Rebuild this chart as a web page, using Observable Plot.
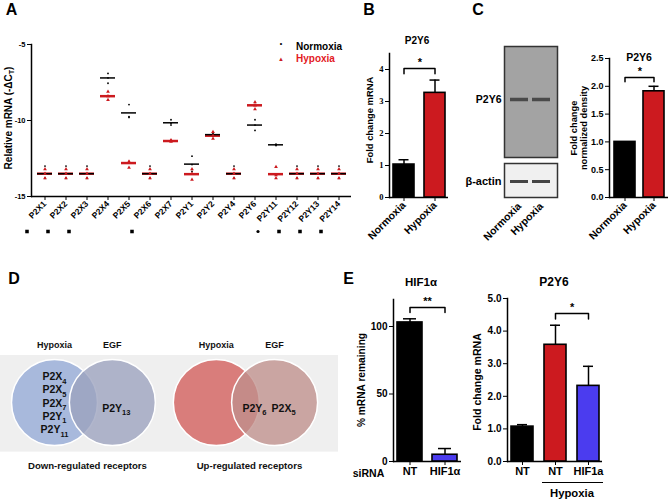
<!DOCTYPE html>
<html><head><meta charset="utf-8">
<script src="https://cdn.jsdelivr.net/npm/d3@7"></script>
<script src="https://cdn.jsdelivr.net/npm/@observablehq/plot@0.6"></script>
<style>
body{margin:0;background:#fff;font-family:"Liberation Sans",Arial,sans-serif;}
#fig{position:relative;width:669px;height:501px;overflow:hidden;background:#fff;}
</style></head><body><div id="fig"></div>
<script>
// ---------------- DATA ----------------
// Panel A: receptor qPCR (-ΔCt)
const receptors = ["P2X1","P2X2","P2X3","P2X4","P2X5","P2X6","P2X7","P2Y1","P2Y2","P2Y4","P2Y6","P2Y11","P2Y12","P2Y13","P2Y14"];
const normoxiaMean = [-13.5,-13.5,-13.5,-7.2,-9.5,-13.5,-10.15,-12.87,-10.93,-13.5,-10.3,-11.6,-13.5,-13.5,-13.5];
const hypoxiaMean  = [-13.5,-13.5,-13.5,-8.4,-12.8,-13.5,-11.35,-13.53,-11.0,-13.5,-9.0,-13.53,-13.5,-13.5,-13.5];
const normoxiaReps = [
  [-13.0,-13.5,-13.8],[-13.0,-13.5,-13.8],[-13.0,-13.5,-13.8],[-6.9,-7.2,-7.55],
  [-8.95,-9.75,-9.8],[-13.0,-13.5,-13.8],[-9.95,-10.2,-10.3],[-12.35,-12.9,-13.35],
  [-10.85,-10.95,-11.0],[-13.0,-13.5,-13.8],[-9.95,-10.3,-10.65],[-11.55,-11.6,-11.65],
  [-13.0,-13.5,-13.8],[-13.0,-13.5,-13.8],[-13.0,-13.5,-13.8]];
const hypoxiaReps = [
  [-13.2,-13.5,-13.8],[-13.2,-13.5,-13.8],[-13.2,-13.5,-13.8],[-8.1,-8.4,-8.65],
  [-12.7,-12.75,-13.1],[-13.2,-13.5,-13.8],[-11.3,-11.35,-11.4],[-13.2,-13.5,-13.9],
  [-10.75,-11.0,-11.2],[-13.2,-13.5,-13.8],[-8.8,-9.0,-9.25],[-13.05,-13.6,-13.8],
  [-13.2,-13.5,-13.8],[-13.2,-13.5,-13.8],[-13.2,-13.5,-13.8]];
const sigReceptors = ["P2X1","P2X2","P2X3","P2X6","P2Y11","P2Y12","P2Y13","P2Y14"];
const sigSymbols   = ["square","square","square","square","circle","square","square","square"];
const aTicks = [-15,-10,-5];

// Panel B: P2Y6 mRNA
const conditions = ["Normoxia","Hypoxia"];
const bMean = [1.03, 3.27];
const bErr  = [0.15, 0.40];
const bTicks = [0,1,2,3,4];
const bSig = {from:"Normoxia", to:"Hypoxia", y:4.03, label:"*"};

// Panel C: western blot densitometry
const blotProteins = ["P2Y6","β-actin"];
const cMean = [1.0, 1.91];
const cErr  = [0, 0.09];
const cTicks = [0,0.5,1,1.5,2,2.5];
const cSig = {from:"Normoxia", to:"Hypoxia", y:2.16, label:"*"};

// Panel D: Venn diagrams
const vennSets   = ["Hypoxia","EGF","Hypoxia","EGF"];
const vennGroups = ["down","down","up","up"];
const downHypoxiaOnly = ["P2X₄","P2X₅","P2X₇","P2Y₁","P2Y₁₁"];
const downEgfOnly = ["P2Y₁₃"];
const upShared = ["P2Y₆"];
const upEgfOnly = ["P2X₅"];
const vennCaptions = ["Down-regulated receptors","Up-regulated receptors"];

// Panel E: siRNA
const eSiRNA = ["NT","HIF1α"];
const eHifMean = [103, 5];
const eHifErr  = [2.7, 4.6];
const eHifTicks = [0,50,100];
const eHifSig = {from:"NT", to:"HIF1α", y:114, label:"**"};
const eGroups = ["NT-normoxia","NT-hypoxia","HIF1a-hypoxia"];
const eGroupLabels = ["NT","NT","HIF1a"];
const eP2y6Mean = [1.07, 3.58, 2.32];
const eP2y6Err  = [0.06, 0.60, 0.60];
const eP2y6Ticks = [0,1,2,3,4,5];
const eP2y6Sig = {from:"NT-hypoxia", to:"HIF1a-hypoxia", y:4.54, label:"*"};

// ---------------- STYLE / LAYOUT ----------------
const RED = "#cc1a1f", BLUE = "#4b3cef", BLACK = "#000";
const SANS = "Liberation Sans, Arial, sans-serif";
const SERIF = "Liberation Serif, Times New Roman, serif";
const fig = document.getElementById("fig");
function place(el, left, top){ el.style.position="absolute"; el.style.left=left+"px"; el.style.top=top+"px"; fig.appendChild(el); return el; }
function label(html, x, y, o={}){
  const {size=10, weight="bold", color="#000", rotate=0, family=SANS, anchor="middle", lh=1.05} = o;
  const d = document.createElement("div");
  d.innerHTML = html;
  const tx = anchor==="start" ? "0" : anchor==="end" ? "-100%" : "-50%";
  Object.assign(d.style,{position:"absolute",left:x+"px",top:y+"px",fontSize:size+"px",fontWeight:weight,color,
    fontFamily:family,whiteSpace:"nowrap",lineHeight:lh,textAlign:"center",
    transform:`translate(${tx},-50%) rotate(${rotate}deg)`});
  fig.appendChild(d); return d;
}
const st = (size)=>({fontFamily:SANS,fontSize:size+"px",fontWeight:"bold",color:"#000",background:"transparent",overflow:"visible"});
const halfStep = (n, w, pi, po) => w/(n-pi+2*po)/2;
function bracket(b, leg, dx, fontSize){
  const pts = [{x:b.from,y:b.y-leg},{x:b.from,y:b.y},{x:b.to,y:b.y},{x:b.to,y:b.y-leg}];
  return [Plot.line(pts,{x:"x",y:"y",stroke:"#000",strokeWidth:1.5}),
          Plot.text([b],{x:"from",y:"y",text:"label",dx,dy:-6,fontSize})];
}
function barMarks(data, capInset){
  const withErr = data.filter(d=>d.e>0);
  return [
    Plot.ruleX(withErr,{x:"c",y1:"m",y2:d=>d.m+d.e,strokeWidth:1.5}),
    Plot.tickY(withErr,{x:"c",y:d=>d.m+d.e,strokeWidth:1.5,insetLeft:capInset,insetRight:capInset}),
    Plot.barY(data,{x:"c",y:"m",fill:"fill",stroke:"#000",strokeWidth:1.6})
  ];
}
// render unicode subscript digits as real subscript tspans
const SUB = "₀₁₂₃₄₅₆₇₈₉";
function subscriptify(svg){
  svg.querySelectorAll("text").forEach(t=>{
    const m = t.textContent.match(/^(.*?)([₀-₉]+)$/);
    if (!m) return;
    t.textContent = m[1];
    const ts = document.createElementNS("http://www.w3.org/2000/svg","tspan");
    ts.textContent = [...m[2]].map(c=>SUB.indexOf(c)).join("");
    ts.setAttribute("dy","3.5"); ts.setAttribute("font-size","7.5");
    t.appendChild(ts);
  });
  return svg;
}

// ---------------- PANEL A ----------------
const aMeans = receptors.map((r,i)=>({r,n:normoxiaMean[i],h:hypoxiaMean[i]}));
const aN = receptors.flatMap((r,i)=>normoxiaReps[i].map(v=>({r,v})));
const aH = receptors.flatMap((r,i)=>hypoxiaReps[i].map(v=>({r,v})));
const aSig = sigReceptors.map((r,i)=>({r,s:sigSymbols[i]}));
place(Plot.plot({
  width:352,height:250,marginLeft:31,marginRight:1,marginTop:44,marginBottom:54,
  style:st(8),
  x:{type:"band",domain:receptors,paddingInner:0.3,paddingOuter:0.15,label:null},
  y:{domain:[-15,-5],label:null},
  marks:[
    Plot.frame({anchor:"left",strokeWidth:1.5}),
    Plot.ruleY([-15],{strokeWidth:1.5}),
    Plot.axisY({ticks:aTicks,tickFormat:d=>String(d),tickSize:4,tickPadding:2,fontSize:7.5,label:null}),
    Plot.axisX({tickRotate:-45,tickSize:4,tickPadding:2,fontSize:8.5,label:null}),
    Plot.tickY(aMeans,{x:"r",y:"h",stroke:RED,strokeWidth:2.5}),
    Plot.tickY(aMeans,{x:"r",y:"n",stroke:"#000",strokeWidth:1.5}),
    Plot.dot(aN,{x:"r",y:"v",r:0.9,fill:"#000"}),
    Plot.dot(aH,{x:"r",y:"v",r:1.4,symbol:"triangle",fill:RED}),
    Plot.dot(aSig,{filter:d=>d.s==="square",x:"r",frameAnchor:"bottom",dx:-18,dy:35,symbol:"square",r:2,fill:"#000"}),
    Plot.dot(aSig,{filter:d=>d.s==="circle",x:"r",frameAnchor:"bottom",dx:-18,dy:35,r:1.6,fill:"#000"})
  ]
}),0,0);
label("A",11.5,10,{size:16});
label("Relative mRNA (-ΔC<sub style='font-size:70%;vertical-align:-2px'>T</sub>)",10,118,{size:10,rotate:-90});
label("<span style='font-size:7px'>•</span>",281,44,{size:7});
label("<span style='font-size:6px'>▲</span>",281,58.5,{size:6,color:RED});
label("Normoxia",296,46.5,{size:10,anchor:"start"});
label("Hypoxia",296,58.5,{size:10,anchor:"start",color:"#e3191f"});

// ---------------- PANEL B ----------------
const bData = conditions.map((c,i)=>({c,m:bMean[i],e:bErr[i],fill:[BLACK,RED][i]}));
place(Plot.plot({
  width:108,height:260,marginLeft:49,marginRight:0,marginTop:53,marginBottom:63,
  style:st(10),
  color:{type:"identity"},
  x:{type:"band",domain:conditions,paddingInner:0.33,paddingOuter:0.1,label:null},
  y:{domain:[0,4.5],label:null},
  marks:[
    Plot.frame({anchor:"left",strokeWidth:1.5}),
    Plot.ruleY([0],{strokeWidth:1.5}),
    ...barMarks(bData,5.5),
    ...bracket(bSig,0.16,halfStep(2,59,0.33,0.1),11),
    Plot.axisY({ticks:bTicks,tickFormat:d=>String(d),tickSize:4,tickPadding:2,fontSize:8.5,fontFamily:SERIF,label:null}),
    Plot.axisX({tickRotate:-45,tickSize:4,tickPadding:2,fontSize:10.5,label:null})
  ]
}),340,0).querySelectorAll("text").forEach(t=>{
  if (/^[0-4]$/.test(t.textContent)) { t.setAttribute("font-family", SERIF); t.style.fontFamily = SERIF; }
});
label("B",369,9.5,{size:16});
label("P2Y6",417,41,{size:10});
label("Fold change mRNA",370,120,{size:9.4,rotate:-90});

// ---------------- PANEL C ----------------
const blotTop = Plot.plot({
  width:90,height:125,marginLeft:34,marginRight:3,marginTop:6,marginBottom:8,
  style:st(10.5),
  x:{type:"band",domain:conditions,paddingInner:0.07,paddingOuter:0.21,axis:null},
  y:{type:"point",domain:[blotProteins[0]],range:[6,112],label:null},
  marks:[
    Plot.frame({fill:"#a3a3a3",stroke:"#333",strokeWidth:1.5}),
    Plot.tickY(conditions,{x:d=>d,y:()=>blotProteins[0],stroke:"#4a4a4a",strokeWidth:3.5,insetLeft:1,insetRight:1}),
    Plot.axisY({tickSize:0,tickPadding:3,fontSize:10.5,label:null})
  ]
});
place(blotTop,470,40);
const blotBottom = Plot.plot({
  width:90,height:100,marginLeft:34,marginRight:3,marginTop:5,marginBottom:61,
  style:st(10.5),
  x:{type:"band",domain:conditions,paddingInner:0.07,paddingOuter:0.21,label:null},
  y:{type:"point",domain:[blotProteins[1]],range:[5,41],label:null},
  marks:[
    Plot.frame({fill:"#f0f0f0",stroke:"#333",strokeWidth:1.5}),
    Plot.tickY(conditions,{x:d=>d,y:()=>blotProteins[1],stroke:"#454545",strokeWidth:3,insetLeft:1,insetRight:1}),
    Plot.axisY({tickSize:0,tickPadding:3,fontSize:11,label:null}),
    Plot.axisX({tickRotate:-45,tickSize:0,tickPadding:7,fontSize:10.5,label:null})
  ]
});
place(blotBottom,470,158);
const cData = conditions.map((c,i)=>({c,m:cMean[i],e:cErr[i],fill:[BLACK,RED][i]}));
place(Plot.plot({
  width:79,height:260,marginLeft:19,marginRight:1,marginTop:58,marginBottom:63,
  style:st(9),
  color:{type:"identity"},
  x:{type:"band",domain:conditions,paddingInner:0.29,paddingOuter:0.14,label:null},
  y:{domain:[0,2.5],label:null},
  marks:[
    Plot.frame({anchor:"left",strokeWidth:1.5}),
    Plot.ruleY([0],{strokeWidth:1.5}),
    ...barMarks(cData,5.5),
    ...bracket(cSig,0.08,halfStep(2,59,0.29,0.14),11),
    Plot.axisY({ticks:cTicks,tickFormat:d3.format(".1f"),tickSize:4,tickPadding:2,fontSize:9,label:null}),
    Plot.axisX({tickRotate:-45,tickSize:4,tickPadding:2,fontSize:10.5,label:null})
  ]
}),590,0);
label("C",478,9.5,{size:16});
label("P2Y6",639,57.5,{size:10.5});
label("Fold change<br>normalized density",578.5,128,{size:9.3,rotate:-90,lh:1.08});

// ---------------- PANEL D ----------------
const U = 43.5;           // px per circle-radius unit
const vennX = [0,1.33,3.72,5.06];
const vennColors = ["#a8b9dc","#9ba2be","#d97d7b","#bf8f8c"];
const circles = vennSets.map((s,i)=>({s,g:vennGroups[i],x:vennX[i],fill:vennColors[i]}));
const listRows = downHypoxiaOnly.map((t,i)=>({t,x:vennX[0],y:(i-2)*0.305+0.016}));
const captions = vennCaptions.map((t,i)=>({t,x:(vennX[2*i]+vennX[2*i+1])/2}));
const vText = {fontSize:10.5,fill:"#111"};
place(subscriptify(Plot.plot({
  width:340,height:200,margin:0,
  style:st(10),
  color:{type:"identity"},
  x:{domain:[-54/U,(340-54)/U],range:[0,340],axis:null},
  y:{domain:[(290-402)/U,(490-402)/U],range:[0,200],axis:null},
  marks:[
    Plot.rect([{x1:-54/U,x2:(338-54)/U,y1:-1.08,y2:1.14}],{x1:"x1",x2:"x2",y1:"y1",y2:"y2",fill:"#efefef"}),
    Plot.dot(circles.filter(d=>d.s==="Hypoxia"),{x:"x",y:()=>0,r:43,fill:"fill",stroke:"#fff",strokeWidth:1.5}),
    Plot.dot(circles.filter(d=>d.s==="EGF"),{x:"x",y:()=>0,r:43,fill:"fill",fillOpacity:0.78,stroke:"#fff",strokeWidth:1.5}),
    Plot.text(circles,{x:"x",y:()=>-1.31,text:"s",fontSize:9,fill:"#111"}),
    Plot.text(listRows,{x:"x",y:"y",text:"t",...vText}),
    Plot.text(downEgfOnly,{x:()=>vennX[1],y:()=>0.14,text:d=>d,dx:4,...vText}),
    Plot.text(upShared,{x:()=>(vennX[2]+vennX[3])/2,y:()=>0.14,text:d=>d,dx:9,...vText}),
    Plot.text(upEgfOnly,{x:()=>vennX[3],y:()=>0.14,text:d=>d,dx:9,...vText}),
    Plot.text(captions,{x:"x",y:()=>1.45,dx:4,text:"t",fontSize:9.6,fill:"#111"})
  ]
})),0,290);
label("D",14,278.5,{size:16});

// ---------------- PANEL E ----------------
const eHif = eSiRNA.map((c,i)=>({c,m:eHifMean[i],e:eHifErr[i],fill:[BLACK,BLUE][i]}));
place(Plot.plot({
  width:96,height:200,marginLeft:28,marginRight:0,marginTop:9,marginBottom:29,
  style:st(10),
  color:{type:"identity"},
  x:{type:"band",domain:eSiRNA,paddingInner:0.29,paddingOuter:0.11,label:null},
  y:{domain:[0,120],label:null},
  marks:[
    Plot.frame({anchor:"left",strokeWidth:1.5}),
    Plot.ruleY([0],{strokeWidth:1.5}),
    ...barMarks(eHif,6),
    ...bracket(eHifSig,3.7,halfStep(2,68,0.29,0.11),11),
    Plot.axisY({ticks:eHifTicks,tickSize:4,tickPadding:2,fontSize:10,label:null}),
    Plot.axisX({tickSize:4,tickPadding:2,fontSize:11,label:null})
  ]
}),365,290);
const eP = eGroups.map((c,i)=>({c,m:eP2y6Mean[i],e:eP2y6Err[i],fill:[BLACK,RED,BLUE][i]}));
place(Plot.plot({
  width:117,height:200,marginLeft:22,marginRight:0,marginTop:8,marginBottom:29,
  style:st(10),
  color:{type:"identity"},
  x:{type:"band",domain:eGroups,paddingInner:0.34,paddingOuter:0.09,label:null},
  y:{domain:[0,5],label:null},
  marks:[
    Plot.frame({anchor:"left",strokeWidth:1.5}),
    Plot.ruleY([0],{strokeWidth:1.5}),
    ...barMarks(eP,6),
    ...bracket(eP2y6Sig,0.17,halfStep(3,95,0.34,0.09),11),
    Plot.axisY({ticks:eP2y6Ticks,tickSize:4,tickPadding:2,fontSize:10,label:null}),
    Plot.axisX({tickSize:4,tickPadding:2,fontSize:11,tickFormat:d=>eGroupLabels[eGroups.indexOf(d)],label:null})
  ]
}),485,290);
label("E",348.5,279,{size:16});
label("HIF1α",421,282,{size:11.5});
label("P2Y6",554,282,{size:12});
label("% mRNA remaining",362,380,{size:10.2,rotate:-90});
label("Fold change mRNA",478,382,{size:10.6,rotate:-90});
label("siRNA",368.5,474,{size:10.5});
const ul = document.createElement("div");
Object.assign(ul.style,{width:"61px",height:"0",borderTop:"1.5px solid #000"});
place(ul,541.5,482);
label("Hypoxia",572,494,{size:11.3});
</script></body></html>
